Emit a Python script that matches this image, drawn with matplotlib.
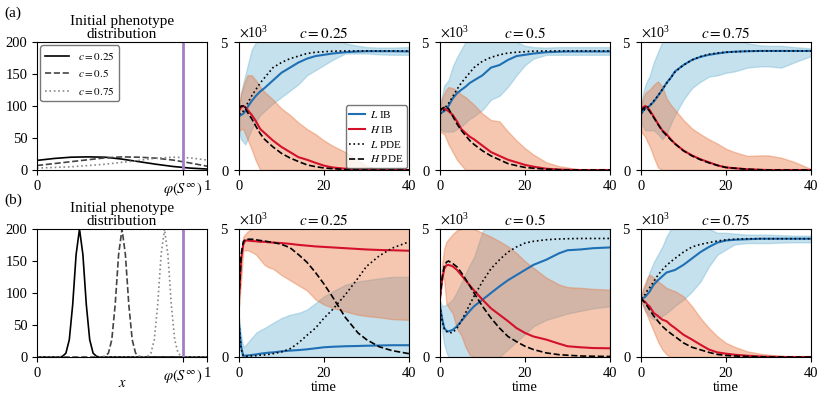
import matplotlib
matplotlib.use("Agg")
import matplotlib.pyplot as plt
import numpy as np

plt.rcParams['font.family'] = ['Liberation Serif', 'DejaVu Serif']
plt.rcParams['mathtext.fontset'] = 'stix'
plt.rcParams['font.size'] = 10.5

# ---- initial phenotype distributions ----
x_broad = [0, 0.1, 0.2, 0.3, 0.4, 0.5, 0.6, 0.7, 0.8, 0.9, 1.0]
broad_025 = [15, 18, 20, 20.5, 20, 17, 13, 9, 5.5, 3, 1.5]
broad_050 = [7, 10, 13, 16, 19, 20.5, 20, 18.5, 15.5, 11, 6]
broad_075 = [3, 4, 5, 7, 9, 12, 15, 18.5, 20, 19, 15.5]

peak_offset = [-0.12, -0.1, -0.08, -0.06, -0.04, -0.02, 0, 0.02, 0.04, 0.06, 0.08, 0.1, 0.12]
peak_profile = [0, 1, 6, 27, 82, 160, 200, 160, 82, 27, 6, 1, 0]

c_values = [0.25, 0.5, 0.75]
phi_S_inf = 0.857

# ---- time series (x10^3 cells) ----
t = [0, 0.5, 1, 1.5, 2, 3, 4, 5, 6, 7, 8, 10, 12, 14, 16, 18, 20, 22, 25, 28, 30, 33, 36, 40]

# row (a), c = 0.25
a25_L_ib = [2.1, 2.15, 2.2, 2.3, 2.45, 2.7, 2.9, 3.07, 3.2, 3.35, 3.5, 3.8, 4.0, 4.2, 4.35, 4.45, 4.5, 4.55, 4.6, 4.63, 4.64, 4.64, 4.64, 4.63]
a25_L_pde = [2.2, 2.2, 2.3, 2.45, 2.6, 2.9, 3.15, 3.4, 3.6, 3.8, 4.0, 4.2, 4.35, 4.45, 4.55, 4.6, 4.62, 4.64, 4.65, 4.65, 4.65, 4.65, 4.65, 4.65]
a25_H_ib = [2.3, 2.45, 2.5, 2.45, 2.35, 2.15, 1.9, 1.6, 1.45, 1.3, 1.15, 0.9, 0.7, 0.5, 0.4, 0.28, 0.17, 0.1, 0.05, 0.02, 0.01, 0, 0, 0]
a25_H_pde = [2.4, 2.5, 2.5, 2.4, 2.25, 2.0, 1.7, 1.42, 1.2, 1.05, 0.9, 0.65, 0.47, 0.33, 0.2, 0.13, 0.08, 0.05, 0.02, 0.01, 0, 0, 0, 0]
a25_L_lo = [1.5, 1.2, 1.1, 1.0, 1.2, 1.6, 1.9, 2.15, 2.3, 2.45, 2.6, 2.85, 3.1, 3.35, 3.7, 3.9, 4.1, 4.3, 4.55, 4.55, 4.55, 4.52, 4.5, 4.5]
a25_L_hi = [2.3, 3.0, 3.4, 3.7, 4.05, 4.7, 5.0, 5.3, 5.3, 5.3, 5.3, 5.3, 5.3, 5.3, 5.3, 5.3, 5.3, 5.3, 4.95, 4.85, 4.8, 4.78, 4.78, 4.8]
a25_H_lo = [1.5, 1.6, 1.6, 1.4, 1.2, 0.8, 0.35, 0, 0, 0, 0, 0, 0, 0, 0, 0, 0, 0, 0, 0, 0, 0, 0, 0]
a25_H_hi = [2.5, 3.0, 3.25, 3.5, 3.7, 3.7, 3.5, 3.25, 3.05, 2.9, 2.75, 2.4, 2.15, 1.85, 1.6, 1.4, 1.15, 0.95, 0.7, 0.37, 0.17, 0, 0, 0]

# row (a), c = 0.5
a50_L_ib = [2.2, 2.25, 2.3, 2.4, 2.5, 2.8, 3.0, 3.13, 3.25, 3.4, 3.5, 3.7, 4.0, 4.1, 4.3, 4.45, 4.5, 4.55, 4.6, 4.62, 4.63, 4.63, 4.63, 4.63]
a50_L_pde = [2.2, 2.25, 2.35, 2.5, 2.6, 2.87, 3.15, 3.4, 3.6, 3.8, 4.0, 4.25, 4.4, 4.5, 4.57, 4.6, 4.62, 4.64, 4.65, 4.65, 4.65, 4.65, 4.65, 4.65]
a50_H_ib = [2.3, 2.4, 2.4, 2.35, 2.3, 2.15, 1.9, 1.6, 1.45, 1.3, 1.2, 0.95, 0.7, 0.55, 0.4, 0.3, 0.2, 0.13, 0.05, 0.02, 0.01, 0, 0, 0]
a50_H_pde = [2.3, 2.4, 2.45, 2.45, 2.4, 2.1, 1.8, 1.55, 1.35, 1.15, 1.0, 0.75, 0.55, 0.4, 0.25, 0.17, 0.1, 0.07, 0.03, 0.01, 0, 0, 0, 0]
a50_L_lo = [1.6, 1.55, 1.5, 1.5, 1.5, 1.5, 1.6, 1.7, 1.85, 2.0, 2.1, 2.35, 2.75, 2.9, 3.25, 3.7, 4.1, 4.35, 4.5, 4.5, 4.5, 4.5, 4.5, 4.5]
a50_L_hi = [2.5, 2.9, 3.3, 3.4, 3.5, 4.05, 4.4, 4.7, 5.0, 5.3, 5.3, 5.3, 5.3, 5.3, 5.3, 5.0, 4.85, 4.8, 4.78, 4.8, 4.8, 4.8, 4.8, 4.8]
a50_H_lo = [1.5, 1.45, 1.4, 1.2, 1.0, 0.7, 0.4, 0.2, 0, 0, 0, 0, 0, 0, 0, 0, 0, 0, 0, 0, 0, 0, 0, 0]
a50_H_hi = [2.4, 2.8, 3.0, 3.15, 3.24, 3.2, 3.1, 2.95, 2.85, 2.7, 2.55, 2.2, 1.95, 1.9, 1.5, 1.15, 0.85, 0.6, 0.3, 0.15, 0.1, 0, 0, 0]

# row (a), c = 0.75
a75_L_ib = [2.2, 2.3, 2.4, 2.45, 2.5, 2.67, 2.9, 3.13, 3.4, 3.6, 3.85, 4.1, 4.3, 4.42, 4.5, 4.55, 4.6, 4.62, 4.64, 4.65, 4.65, 4.65, 4.65, 4.65]
a75_L_pde = [2.2, 2.3, 2.4, 2.45, 2.5, 2.7, 2.9, 3.15, 3.38, 3.6, 3.83, 4.1, 4.3, 4.43, 4.52, 4.57, 4.6, 4.62, 4.64, 4.65, 4.65, 4.65, 4.65, 4.65]
a75_H_ib = [2.3, 2.45, 2.5, 2.45, 2.35, 2.08, 1.8, 1.55, 1.4, 1.2, 1.03, 0.76, 0.57, 0.42, 0.3, 0.18, 0.1, 0.07, 0.03, 0.01, 0, 0, 0, 0]
a75_H_pde = [2.3, 2.4, 2.45, 2.4, 2.3, 2.05, 1.78, 1.53, 1.35, 1.18, 1.02, 0.75, 0.55, 0.4, 0.28, 0.18, 0.1, 0.07, 0.03, 0.01, 0, 0, 0, 0]
a75_L_lo = [1.9, 1.7, 1.55, 1.55, 1.55, 1.55, 1.4, 1.2, 1.4, 1.8, 2.15, 2.75, 3.2, 3.45, 3.65, 3.7, 3.8, 3.85, 4.0, 4.05, 4.05, 4.0, 4.2, 4.45]
a75_L_hi = [2.5, 3.0, 3.3, 3.5, 3.65, 4.2, 4.6, 5.0, 5.3, 5.3, 5.3, 5.3, 5.3, 5.3, 5.3, 5.3, 5.3, 5.3, 4.95, 4.87, 4.85, 4.85, 4.8, 4.75]
a75_H_lo = [1.5, 1.4, 1.3, 1.1, 0.95, 0.5, 0.1, 0, 0, 0, 0, 0, 0, 0, 0, 0, 0, 0, 0, 0, 0, 0, 0, 0]
a75_H_hi = [2.5, 2.8, 3.0, 3.08, 3.13, 3.33, 3.46, 3.26, 2.8, 2.55, 2.35, 1.95, 1.62, 1.4, 1.2, 1.03, 0.83, 0.7, 0.55, 0.57, 0.57, 0.48, 0.32, 0.04]

# row (b), c = 0.25
b25_L_ib = [1.3, 0.4, 0.05, 0.05, 0.06, 0.08, 0.1, 0.13, 0.15, 0.17, 0.18, 0.22, 0.25, 0.27, 0.3, 0.34, 0.38, 0.4, 0.42, 0.43, 0.44, 0.45, 0.46, 0.46]
b25_L_pde = [1.3, 0.3, 0.05, 0.03, 0.03, 0.04, 0.05, 0.07, 0.08, 0.1, 0.13, 0.2, 0.32, 0.55, 0.85, 1.13, 1.52, 1.85, 2.43, 3.08, 3.54, 3.95, 4.25, 4.5]
b25_H_ib = [2.3, 3.8, 4.4, 4.55, 4.55, 4.53, 4.52, 4.5, 4.5, 4.48, 4.47, 4.45, 4.42, 4.38, 4.35, 4.32, 4.3, 4.28, 4.25, 4.22, 4.2, 4.18, 4.17, 4.15]
b25_H_pde = [2.3, 4.0, 4.5, 4.6, 4.6, 4.6, 4.58, 4.55, 4.53, 4.5, 4.48, 4.4, 4.27, 4.0, 3.7, 3.3, 2.85, 2.35, 1.55, 0.94, 0.68, 0.4, 0.25, 0.13]
b25_L_lo = [1.1, 0, 0, 0, 0, 0, 0, 0, 0, 0, 0, 0, 0, 0, 0, 0, 0, 0, 0, 0, 0, 0, 0, 0]
b25_L_hi = [1.5, 0.8, 0.4, 0.45, 0.55, 0.75, 0.94, 1.05, 1.13, 1.23, 1.33, 1.52, 1.65, 1.72, 1.85, 2.1, 2.37, 2.56, 2.82, 2.95, 3.0, 3.07, 3.13, 3.13]
b25_H_lo = [2.0, 3.0, 4.17, 4.17, 4.17, 4.1, 4.0, 3.8, 3.6, 3.5, 3.45, 3.2, 3.0, 2.8, 2.6, 2.25, 2.05, 1.92, 1.78, 1.65, 1.6, 1.55, 1.48, 1.45]
b25_H_hi = [2.5, 4.0, 4.7, 4.8, 4.9, 5.0, 5.3, 5.3, 5.3, 5.3, 5.3, 5.3, 5.3, 5.3, 5.3, 5.3, 5.3, 5.3, 5.3, 5.3, 5.3, 5.3, 5.3, 5.3]

# row (b), c = 0.5
b50_L_ib = [2.0, 1.5, 1.13, 1.03, 1.0, 1.06, 1.2, 1.4, 1.6, 1.8, 1.98, 2.24, 2.5, 2.76, 3.0, 3.2, 3.4, 3.6, 3.8, 4.05, 4.17, 4.2, 4.25, 4.28]
b50_L_pde = [2.0, 1.4, 1.1, 1.0, 0.95, 0.95, 1.13, 1.4, 1.72, 2.05, 2.37, 2.95, 3.45, 3.8, 4.1, 4.3, 4.45, 4.52, 4.58, 4.61, 4.62, 4.63, 4.63, 4.63]
b50_H_ib = [2.3, 3.0, 3.45, 3.58, 3.6, 3.54, 3.4, 3.2, 3.0, 2.8, 2.6, 2.24, 1.9, 1.65, 1.4, 1.13, 0.94, 0.8, 0.68, 0.52, 0.42, 0.38, 0.35, 0.34]
b50_H_pde = [2.3, 3.1, 3.55, 3.7, 3.75, 3.65, 3.52, 3.3, 3.05, 2.78, 2.5, 1.98, 1.52, 1.13, 0.8, 0.6, 0.42, 0.29, 0.16, 0.09, 0.07, 0.04, 0.03, 0.02]
b50_L_lo = [1.5, 1.0, 0.5, 0.2, 0, 0, 0, 0, 0, 0, 0, 0, 0, 0, 0.3, 0.6, 0.9, 1.2, 1.45, 1.6, 1.7, 1.8, 1.9, 1.98]
b50_L_hi = [2.2, 2.0, 2.0, 2.05, 2.1, 2.25, 2.55, 2.9, 3.25, 3.6, 3.9, 4.9, 5.3, 5.3, 5.3, 5.3, 5.3, 5.3, 5.3, 5.3, 5.3, 5.3, 5.3, 5.3]
b50_H_lo = [2.3, 3.2, 3.0, 2.1, 1.95, 1.7, 1.1, 0.85, 0.4, 0.08, 0, 0, 0, 0, 0, 0, 0, 0, 0, 0, 0, 0, 0, 0]
b50_H_hi = [2.4, 3.6, 4.24, 4.5, 4.6, 4.8, 4.95, 5.0, 5.3, 5.3, 5.0, 4.85, 4.7, 4.52, 4.32, 4.06, 3.74, 3.48, 3.1, 2.83, 2.73, 2.7, 2.66, 2.63]

# row (b), c = 0.75
b75_L_ib = [2.3, 2.3, 2.35, 2.45, 2.55, 2.83, 3.0, 3.15, 3.3, 3.35, 3.4, 3.6, 3.85, 4.1, 4.3, 4.47, 4.55, 4.58, 4.6, 4.62, 4.62, 4.62, 4.62, 4.62]
b75_L_pde = [2.3, 2.35, 2.45, 2.6, 2.7, 2.95, 3.2, 3.4, 3.58, 3.72, 3.85, 4.1, 4.3, 4.4, 4.47, 4.53, 4.58, 4.6, 4.62, 4.62, 4.62, 4.62, 4.62, 4.62]
b75_H_ib = [2.3, 2.2, 2.15, 2.05, 1.98, 1.72, 1.6, 1.46, 1.4, 1.25, 1.13, 0.87, 0.68, 0.48, 0.29, 0.18, 0.13, 0.09, 0.05, 0.02, 0.01, 0, 0, 0]
b75_H_pde = [2.3, 2.2, 2.1, 1.98, 1.85, 1.6, 1.4, 1.2, 1.05, 0.92, 0.8, 0.55, 0.38, 0.28, 0.18, 0.1, 0.06, 0.04, 0.02, 0.01, 0, 0, 0, 0]
b75_L_lo = [2.2, 2.0, 1.8, 1.7, 1.6, 1.46, 1.5, 1.6, 1.72, 1.85, 2.0, 2.24, 2.56, 2.95, 3.54, 4.0, 4.2, 4.4, 4.45, 4.45, 4.45, 4.47, 4.48, 4.48]
b75_L_hi = [2.3, 2.6, 2.8, 3.05, 3.3, 3.7, 4.0, 4.3, 4.7, 5.0, 5.3, 5.3, 5.3, 5.3, 5.0, 4.85, 4.85, 4.82, 4.78, 4.78, 4.78, 4.76, 4.74, 4.74]
b75_H_lo = [2.2, 2.0, 1.8, 1.6, 1.4, 1.0, 0.6, 0.3, 0.1, 0, 0, 0, 0, 0, 0, 0, 0, 0, 0, 0, 0, 0, 0, 0]
b75_H_hi = [2.3, 2.7, 2.9, 3.1, 3.22, 3.1, 2.96, 2.83, 2.7, 2.63, 2.57, 2.37, 1.98, 1.52, 1.13, 0.8, 0.55, 0.4, 0.22, 0.13, 0.09, 0.05, 0, 0]

panels = {
    'a': [(a25_L_ib, a25_L_pde, a25_H_ib, a25_H_pde, a25_L_lo, a25_L_hi, a25_H_lo, a25_H_hi),
          (a50_L_ib, a50_L_pde, a50_H_ib, a50_H_pde, a50_L_lo, a50_L_hi, a50_H_lo, a50_H_hi),
          (a75_L_ib, a75_L_pde, a75_H_ib, a75_H_pde, a75_L_lo, a75_L_hi, a75_H_lo, a75_H_hi)],
    'b': [(b25_L_ib, b25_L_pde, b25_H_ib, b25_H_pde, b25_L_lo, b25_L_hi, b25_H_lo, b25_H_hi),
          (b50_L_ib, b50_L_pde, b50_H_ib, b50_H_pde, b50_L_lo, b50_L_hi, b50_H_lo, b50_H_hi),
          (b75_L_ib, b75_L_pde, b75_H_ib, b75_H_pde, b75_L_lo, b75_L_hi, b75_H_lo, b75_H_hi)],
}

BLUE = '#1f6fb4'
RED = '#d4112b'
BLUE_FILL = '#70b6d4'
RED_FILL = '#e8753e'
PURPLE = '#a67cc8'
dist_styles = [('-', 'black'), ('--', '#444444'), (':', '#888888')]

W, H = 830, 404
fig = plt.figure(figsize=(W / 100, H / 100), dpi=100)

lefts = [37, 239, 440, 641]
rows = {'a': 170, 'b': 357}
aw, ah = 170, 128

tt = np.array(t)
for r, bottom in rows.items():
    # initial distribution panel
    ax = fig.add_axes([lefts[0] / W, (H - bottom) / H, aw / W, ah / H])
    if r == 'a':
        curves = [broad_025, broad_050, broad_075]
        for (ls, col), c, y in zip(dist_styles, c_values, curves):
            ax.plot(x_broad, y, ls, color=col, lw=1.2, label='$c = %s$' % c)
        ax.legend(loc='upper left', fontsize=8, borderaxespad=0.3,
                  handlelength=2.2, edgecolor='#555555', fancybox=True)
    else:
        for (ls, col), c in zip(dist_styles, c_values):
            xs = [0] + [c + o for o in peak_offset] + [1]
            ys = [0] + peak_profile + [0]
            ax.plot(xs, ys, ls, color=col, lw=1.2)
        ax.set_xlabel('$x$')
        ax.xaxis.set_label_coords(0.5, -0.16)
    ax.axvline(phi_S_inf, color=PURPLE, lw=2)
    ax.set_xlim(0, 1)
    ax.set_ylim(0, 200)
    ax.set_yticks([0, 50, 100, 150, 200])
    ax.set_xticks([0, phi_S_inf, 1])
    ax.set_xticklabels(['0', r'$\varphi(S^{\infty})$', '1'])
    ax.set_title('Initial phenotype\ndistribution', fontsize=11, pad=3, linespacing=0.95)
    ax.text(-0.19, 1.2, '(%s)' % r, transform=ax.transAxes, fontsize=11)

    for i, (c, data) in enumerate(zip(c_values, panels[r])):
        L_ib, L_pde, H_ib, H_pde, L_lo, L_hi, H_lo, H_hi = [np.array(d) * 1e3 for d in data]
        ax = fig.add_axes([lefts[i + 1] / W, (H - bottom) / H, aw / W, ah / H])
        ax.fill_between(tt, L_lo, L_hi, facecolor=BLUE_FILL, edgecolor=BLUE_FILL, alpha=0.4, lw=1)
        ax.fill_between(tt, H_lo, H_hi, facecolor=RED_FILL, edgecolor=RED_FILL, alpha=0.4, lw=1)
        ax.plot(tt, L_ib, color=BLUE, lw=1.5, label='$L$ IB')
        ax.plot(tt, H_ib, color=RED, lw=1.5, label='$H$ IB')
        ax.plot(tt, L_pde, ':', color='black', lw=1.2, label='$L$ PDE')
        ax.plot(tt, H_pde, '--', color='black', lw=1.2, label='$H$ PDE')
        ax.set_xlim(0, 40)
        ax.set_ylim(0, 5000)
        ax.set_xticks([0, 20, 40])
        ax.set_yticks([0, 5000])
        ax.ticklabel_format(axis='y', style='sci', scilimits=(3, 3), useMathText=True)
        ax.yaxis.get_offset_text().set_fontsize(10)
        ax.set_title('$c = %s$' % c, fontsize=11, pad=3)
        if r == 'b':
            ax.set_xlabel('time', labelpad=1)
        if r == 'a' and i == 0:
            ax.legend(loc='lower right', fontsize=8, borderaxespad=0.2,
                      handlelength=1.4, handletextpad=0.5, borderpad=0.3,
                      labelspacing=0.35, edgecolor='#555555')

fig.savefig('out.png', dpi=100)
